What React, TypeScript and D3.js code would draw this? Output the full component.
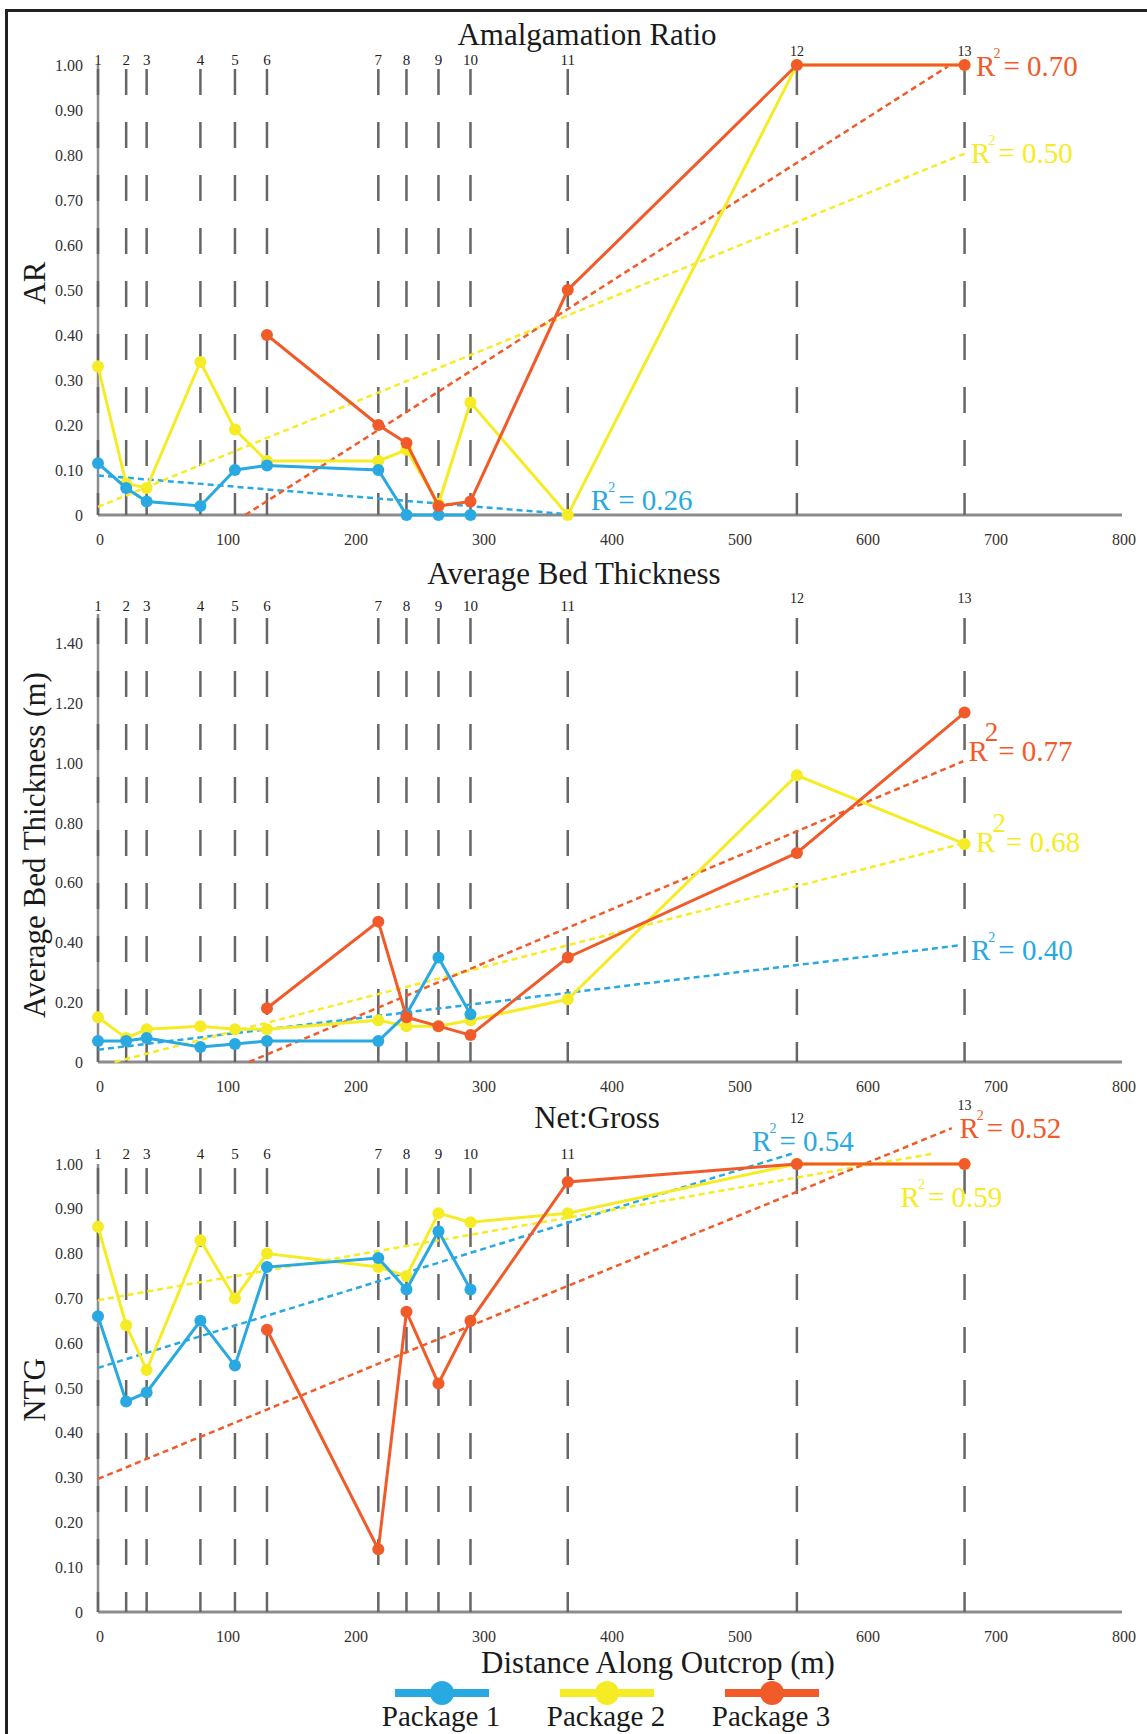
import React from 'react';
import * as d3 from 'd3';

// stations along the outcrop (m)
const stations = ['1', '2', '3', '4', '5', '6', '7', '8', '9', '10', '11', '12', '13'];
const stationDist = [0, 22, 38, 80, 107, 132, 219, 241, 266, 291, 367, 546, 677];

const packages = ['Package 1', 'Package 2', 'Package 3'];
const colors = ['#29A9E1', '#F5EC25', '#F15A29'];

const xTicks = [0, 100, 200, 300, 400, 500, 600, 700, 800];
const arTicks = [0, 0.1, 0.2, 0.3, 0.4, 0.5, 0.6, 0.7, 0.8, 0.9, 1.0];
const abtTicks = [0, 0.2, 0.4, 0.6, 0.8, 1.0, 1.2, 1.4];
const ntgTicks = [0, 0.1, 0.2, 0.3, 0.4, 0.5, 0.6, 0.7, 0.8, 0.9, 1.0];

// Amalgamation ratio
const arP1 = [0.115, 0.06, 0.03, 0.02, 0.1, 0.11, 0.1, 0, 0, 0, null, null, null];
const arP2 = [0.33, 0.07, 0.06, 0.34, 0.19, 0.12, 0.12, 0.145, 0.025, 0.25, 0, 1.0, 1.0];
const arP3 = [null, null, null, null, null, 0.4, 0.2, 0.16, 0.02, 0.03, 0.5, 1.0, 1.0];
// trend lines [x0, y0, x1, y1]
const arTrend = [[0, 0.088, 362, 0.003], [0, 0.018, 677, 0.803], [115, 0, 664, 0.997]];
const arR2 = ['0.26', '0.50', '0.70'];

// Average bed thickness (m)
const abtP1 = [0.07, 0.07, 0.08, 0.05, 0.06, 0.07, 0.07, 0.16, 0.35, 0.16, null, null, null];
const abtP2 = [0.15, 0.08, 0.11, 0.12, 0.11, 0.11, 0.14, 0.12, 0.12, 0.14, 0.21, 0.96, 0.73];
const abtP3 = [null, null, null, null, null, 0.18, 0.47, 0.15, 0.12, 0.09, 0.35, 0.7, 1.17];
const abtTrend = [[0, 0.041, 672, 0.39], [13, 0, 677, 0.733], [118, 0, 676, 1.007]];
const abtR2 = ['0.40', '0.68', '0.77'];

// Net:Gross
const ntgP1 = [0.66, 0.47, 0.49, 0.65, 0.55, 0.77, 0.79, 0.72, 0.85, 0.72, null, null, null];
const ntgP2 = [0.86, 0.64, 0.54, 0.83, 0.7, 0.8, 0.77, 0.75, 0.89, 0.87, 0.89, 1.0, 1.0];
const ntgP3 = [null, null, null, null, null, 0.63, 0.14, 0.67, 0.51, 0.65, 0.96, 1.0, 1.0];
const ntgTrend = [[0, 0.545, 542, 1.023], [0, 0.696, 652, 1.023], [0, 0.297, 667, 1.08]];
const ntgR2 = ['0.54', '0.59', '0.52'];

const FONT = '"Liberation Serif", "Times New Roman", serif';
const W = 1147;
const H = 1734;

const x = d3.scaleLinear().domain([0, 800]).range([98, 1122]);

const panels = [
  {
    title: 'Amalgamation Ratio', titleX: 587, titleY: 45,
    yTitle: 'AR', yTitleY: 283,
    domain: [0, 1], range: [515, 65], ticks: arTicks,
    series: [arP1, arP2, arP3], trend: arTrend, r2: arR2,
    // R² label anchors in data units, and big-superscript flag
    r2Pos: [[385, 0.011, false], [682, 0.782, false], [686, 0.976, false]],
    stLabelDy: [0, 0], stLabelDy12: [-9, -9],
  },
  {
    title: 'Average Bed Thickness', titleX: 574, titleY: 584,
    yTitle: 'Average Bed Thickness (m)', yTitleY: 845,
    domain: [0, 1.5], range: [1062, 614], ticks: abtTicks,
    series: [abtP1, abtP2, abtP3], trend: abtTrend, r2: abtR2,
    r2Pos: [[682, 0.342, false], [686, 0.703, true], [680, 1.007, true]],
    stLabelDy: [-3, -3], stLabelDy12: [-11, -11],
  },
  {
    title: 'Net:Gross', titleX: 597, titleY: 1128,
    yTitle: 'NTG', yTitleY: 1390,
    domain: [0, 1], range: [1612, 1164], ticks: ntgTicks,
    series: [ntgP1, ntgP2, ntgP3], trend: ntgTrend, r2: ntgR2,
    r2Pos: [[511, 1.029, false], [627, 0.905, false], [673, 1.057, false]],
    stLabelDy: [-5, -5], stLabelDy12: [-41, -54],
  },
];

const drawOrder = [1, 0, 2];

function Panel({ p }: { p: any }) {
  const y = d3.scaleLinear().domain(p.domain).range(p.range);
  const top = y(p.domain[1]);
  const bottom = y(0);
  const line = d3
    .line<any>()
    .defined((d) => d.v != null)
    .x((d) => x(d.x))
    .y((d) => y(d.v));

  return (
    <g>
      <text x={p.titleX} y={p.titleY} textAnchor="middle" fontSize={31} fill="#1a1a1a">
        {p.title}
      </text>
      <text
        transform={`translate(45,${p.yTitleY}) rotate(-90)`}
        textAnchor="middle"
        fontSize={31}
        fill="#1a1a1a"
      >
        {p.yTitle}
      </text>
      {/* y tick labels */}
      {p.ticks.map((t: number) => (
        <text key={t} x={83} y={y(t)} dy="0.35em" textAnchor="end" fontSize={16} fill="#333">
          {t === 0 ? '0' : t.toFixed(2)}
        </text>
      ))}
      {/* x tick labels */}
      {xTicks.map((t) => (
        <text key={t} x={x(t) + 2} y={bottom + 30} textAnchor="middle" fontSize={16} fill="#333">
          {t}
        </text>
      ))}
      {/* axes */}
      <line x1={x(0)} x2={x(0)} y1={top} y2={bottom} stroke="#8c8c8c" strokeWidth={2.5} />
      <line x1={x(0)} x2={x(800)} y1={bottom} y2={bottom} stroke="#8c8c8c" strokeWidth={3} />
      {/* station lines */}
      {stationDist.map((d, i) => {
        const lab = i >= 11 ? p.stLabelDy12[i - 11] : p.stLabelDy[0];
        return (
          <g key={i}>
            <line
              x1={x(d)} x2={x(d)} y1={top + 4} y2={bottom}
              stroke="#666" strokeWidth={2.5} strokeDasharray="26 27"
            />
            <text x={x(d)} y={top + lab} textAnchor="middle" fontSize={i >= 11 ? 14 : 15} fill="#222">
              {stations[i]}
            </text>
          </g>
        );
      })}
      {/* trend lines */}
      {p.trend.map((t: number[], k: number) => (
        <line
          key={k}
          x1={x(t[0])} y1={y(t[1])} x2={x(t[2])} y2={y(t[3])}
          stroke={colors[k]} strokeWidth={2.5} strokeDasharray="6 4"
        />
      ))}
      {/* data series */}
      {drawOrder.map((k) => {
        const pts = p.series[k].map((v: number | null, i: number) => ({ x: stationDist[i], v }));
        return (
          <g key={k}>
            <path d={line(pts) || ''} fill="none" stroke={colors[k]} strokeWidth={3} />
            {pts
              .filter((d: any) => d.v != null)
              .map((d: any, i: number) => (
                <circle key={i} cx={x(d.x)} cy={y(d.v)} r={6} fill={colors[k]} />
              ))}
          </g>
        );
      })}
      {/* R² labels */}
      {p.r2.map((r: string, k: number) => {
        const [lx, ly, big] = p.r2Pos[k];
        return (
          <text key={k} x={x(lx)} y={y(ly)} fontSize={29} fill={colors[k]}>
            <tspan>R</tspan>
            {big ? (
              <tspan dx={-3} dy={-20} fontSize={27}>2</tspan>
            ) : (
              <tspan dx={-2} dy={-18} fontSize={14}>2</tspan>
            )}
            <tspan dx={big ? 0 : 3} dy={big ? 20 : 18}>{`= ${r}`}</tspan>
          </text>
        );
      })}
    </g>
  );
}

const legendX = [442, 607, 772];

export default function App() {
  return (
    <svg
      width={W}
      height={H}
      style={{ position: 'absolute', left: 0, top: 0, background: '#fff' }}
      fontFamily={FONT}
    >
      <rect x={0} y={0} width={W} height={H} fill="#fff" />
      <rect x={6.5} y={10.5} width={W + 20} height={H + 20} fill="none" stroke="#222" strokeWidth={3} />
      {panels.map((p, i) => (
        <Panel key={i} p={p} />
      ))}
      <text x={658} y={1673} textAnchor="middle" fontSize={31} fill="#1a1a1a">
        Distance Along Outcrop (m)
      </text>
      {packages.map((name, k) => (
        <g key={name}>
          <line x1={legendX[k] - 47} x2={legendX[k] + 47} y1={1693} y2={1693} stroke={colors[k]} strokeWidth={8} />
          <circle cx={legendX[k]} cy={1693} r={12} fill={colors[k]} />
          <text x={legendX[k] - 1} y={1726} textAnchor="middle" fontSize={29} fill="#1a1a1a">
            {name}
          </text>
        </g>
      ))}
    </svg>
  );
}
